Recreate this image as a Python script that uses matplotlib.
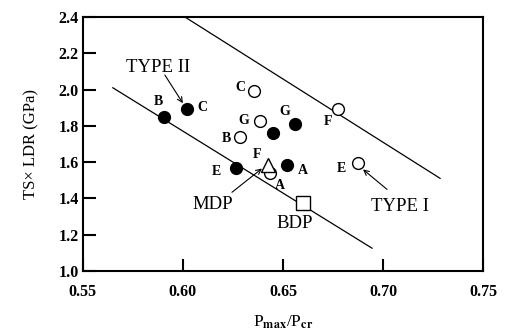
import matplotlib
matplotlib.use('Agg')
import matplotlib.pyplot as plt

plt.rcParams['font.family'] = ['Liberation Serif', 'DejaVu Serif']
plt.rcParams['mathtext.fontset'] = 'stix'

# Type II (filled circles)
t2_x = [0.5905, 0.602, 0.656, 0.645, 0.6265, 0.652]
t2_y = [1.851, 1.895, 1.813, 1.758, 1.566, 1.582]
t2_lab = ['B', 'C', 'G', '', 'E', 'A']

# Type I (open circles)
t1_x = [0.6355, 0.6385, 0.6285, 0.6775, 0.6875, 0.6435]
t1_y = [1.994, 1.829, 1.736, 1.895, 1.593, 1.538]
t1_lab = ['C', 'G', 'B', 'F', 'E', 'A']

# MDP (triangle) and BDP (square)
mdp_x, mdp_y = [0.6425], [1.582]
bdp_x, bdp_y = [0.660], [1.373]

# boundary lines
up_x = [0.601, 0.7285]
up_y = [2.40, 1.511]
lo_x = [0.565, 0.6945]
lo_y = [2.01, 1.126]

fig = plt.figure(figsize=(5.08, 3.33), dpi=100)
ax = fig.add_axes([0.163, 0.186, 0.788, 0.763])

ax.plot(up_x, up_y, color='black', lw=0.9)
ax.plot(lo_x, lo_y, color='black', lw=0.9)

ax.plot(t2_x, t2_y, 'o', color='black', ms=8.5, zorder=3)
ax.plot(t1_x, t1_y, 'o', mfc='white', mec='black', mew=1.0, ms=8.5, zorder=3)
ax.plot(mdp_x, mdp_y, '^', mfc='white', mec='black', mew=1.0, ms=10.5, zorder=4)
ax.plot(bdp_x, bdp_y, 's', mfc='white', mec='black', mew=1.0, ms=9.5, zorder=3)

lbl = dict(fontsize=10, fontweight='bold', ha='center', va='center')
# point letters (offsets in points)
offs2 = [(-4, 11), (11, 1), (-7, 9), (0, 0), (-14, -2), (11.5, -3.5)]
for x, y, s, o in zip(t2_x, t2_y, t2_lab, offs2):
    if s:
        ax.annotate(s, (x, y), xytext=o, textcoords='offset points', **lbl)
offs1 = [(-10, 2), (-12, 0), (-10, -1), (-7, -9), (-12, -3.5), (7, -9)]
for x, y, s, o in zip(t1_x, t1_y, t1_lab, offs1):
    ax.annotate(s, (x, y), xytext=o, textcoords='offset points', **lbl)
ax.annotate('F', (mdp_x[0], mdp_y[0]), xytext=(-8, 8), textcoords='offset points', **lbl)

big = dict(fontsize=13.5, ha='center', va='center')
arr = dict(arrowstyle='->', lw=0.8, color='black', shrinkA=0, shrinkB=0,
           mutation_scale=9)
ax.text(0.5875, 2.122, 'TYPE II', **big)
ax.annotate('', xy=(0.600, 1.925), xytext=(0.591, 2.08), arrowprops=arr)
ax.text(0.7085, 1.357, 'TYPE I', **big)
ax.annotate('', xy=(0.690, 1.56), xytext=(0.702, 1.45), arrowprops=arr)
ax.text(0.615, 1.368, 'MDP', **big)
ax.annotate('', xy=(0.6395, 1.565), xytext=(0.6245, 1.434), arrowprops=arr)
ax.text(0.656, 1.263, 'BDP', **big)

ax.set_xlim(0.55, 0.75)
ax.set_ylim(1.0, 2.4)
ax.set_xticks([0.55, 0.60, 0.65, 0.70, 0.75])
ax.set_yticks([1.0, 1.2, 1.4, 1.6, 1.8, 2.0, 2.2, 2.4])
ax.set_xticklabels(['0.55', '0.60', '0.65', '0.70', '0.75'], fontweight='bold')
ax.set_yticklabels(['1.0', '1.2', '1.4', '1.6', '1.8', '2.0', '2.2', '2.4'], fontweight='bold')
ax.tick_params(direction='in', length=9, width=1.5, labelsize=11.5, pad=3)
ax.tick_params(axis='x', pad=9)
for sp in ax.spines.values():
    sp.set_linewidth(1.5)

ax.set_ylabel('TS\u00d7 LDR (GPa)', fontsize=12, labelpad=14)
ax.set_xlabel(r'P$_{\mathbf{max}}$/P$_{\mathbf{cr}}$', fontsize=12.5, labelpad=10)

fig.savefig('out.png', dpi=100)
